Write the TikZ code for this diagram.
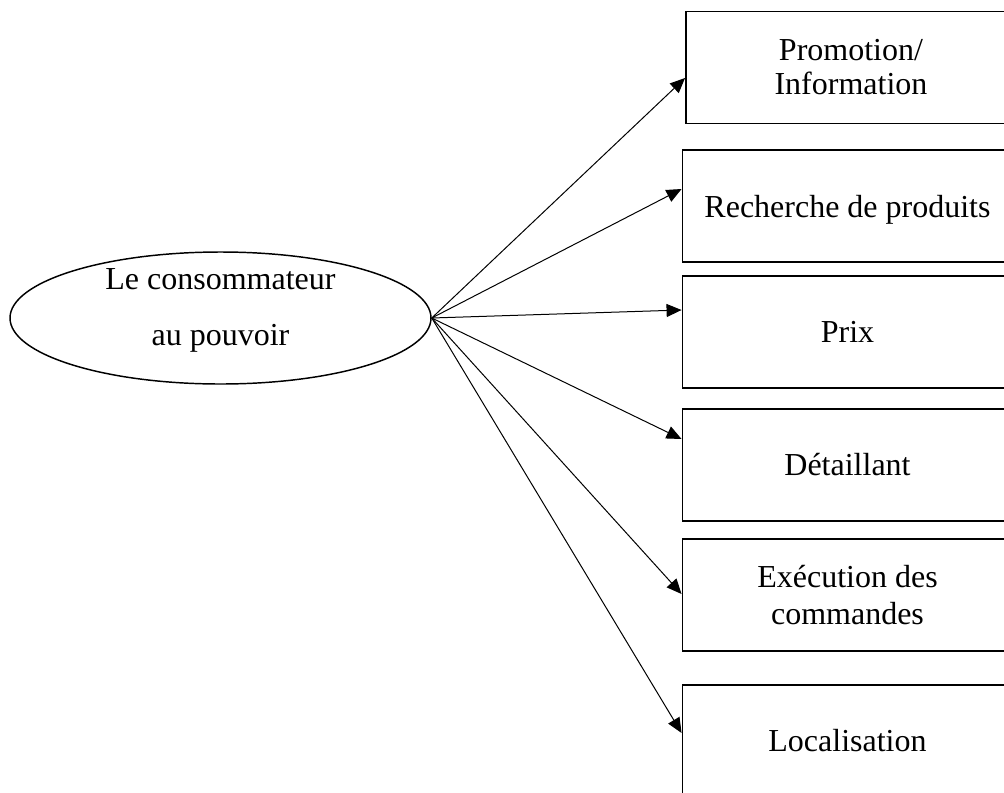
\documentclass[tikz,border=0pt]{standalone}
\usepackage{fontspec}
\setmainfont{Liberation Serif}
\usetikzlibrary{arrows.meta,shapes.geometric,calc}

\begin{document}
\begin{tikzpicture}[x=0.75pt,y=-0.75pt,
  every node/.style={font=\fontsize{24}{25.5}\selectfont},
  hub/.style={draw,line width=1.1pt,ellipse,inner sep=0pt,
    minimum width=315.75pt,minimum height=99pt},
  hubtext/.style={inner sep=0pt,align=center,
    font=\fontsize{24}{42}\selectfont},
  itembox/.style={draw,line width=1.4pt,rectangle,inner sep=0pt,
    minimum width=247.5pt,minimum height=84pt,align=center},
  link/.style={line width=0.75pt,-{Triangle[length=11.25pt,width=9.75pt]}}]

  % page frame, the boxes run past the right and bottom edges
  \useasboundingbox (0,0) rectangle (1004,793);
  \clip (0,0) rectangle (1004,793);

  % central ellipse and its two lines of text
  \node[hub] (hub) at (220.5,318) {};
  \node[hubtext] (hubtxt) at ([yshift=6pt]hub.center) {Le consommateur\\au pouvoir};

  % column of boxes
  \node[itembox] (b1) at (851,67.5) {Promotion/\\Information};
  \node[itembox,text depth=0pt] (b2) at (847.5,206) {Recherche de produits};
  \node[itembox] (b3) at (847.5,332) {Prix};
  \node[itembox] (b4) at (847.5,465) {Détaillant};
  \node[itembox,font=\fontsize{24}{27.75}\selectfont] (b5) at (847.5,595) {Exécution des\\commandes};
  \node[itembox] (b6) at (847.5,741) {Localisation};

  % arrows fanning out from the ellipse tip
  \draw[link] (hub.east) -- ($(b1.west)+(0,10.5)$);
  \draw[link] (hub.east) -- ($(b2.west)+(0,-17)$);
  \draw[link] (hub.east) -- ($(b3.west)+(0,-22)$);
  \draw[link] (hub.east) -- ($(b4.west)+(0,-26)$);
  \draw[link] (hub.east) -- ($(b5.west)+(0,-1)$);
  \draw[link] (hub.east) -- ($(b6.west)+(0,-8)$);
\end{tikzpicture}
\end{document}
